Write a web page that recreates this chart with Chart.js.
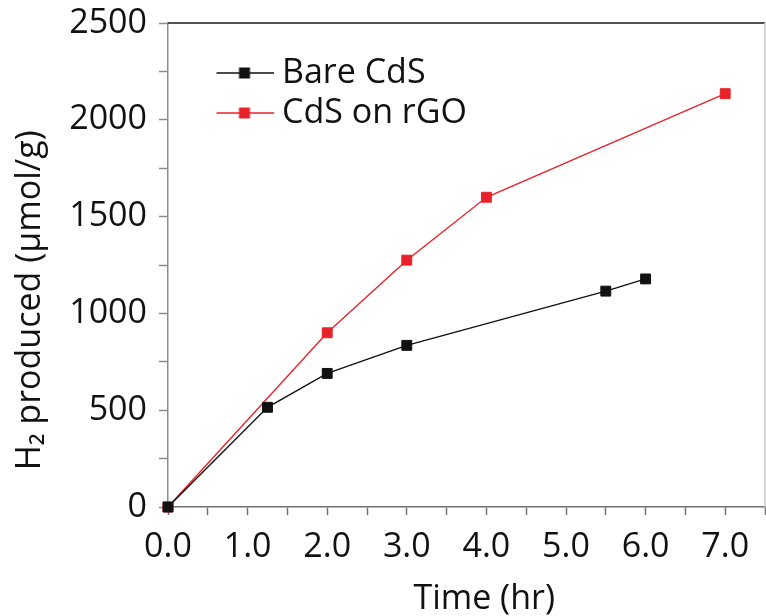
<!DOCTYPE html>
<html>
<head>
<meta charset="utf-8">
<script src="https://cdn.jsdelivr.net/npm/chart.js@4.4.0/dist/chart.umd.min.js"></script>
<style>
  html, body { margin: 0; padding: 0; background: #fff; }
  #wrap { width: 766px; height: 616px; }
</style>
</head>
<body>
<div id="wrap"><canvas id="chart" width="766" height="616"></canvas></div>
<script>
// H2 evolution data
const bareTime = [0, 1.25, 2, 3, 5.5, 6];
const bareH2 = [0, 515, 690, 835, 1115, 1178];
const rgoTime = [0, 2, 3, 4, 7];
const rgoH2 = [0, 900, 1275, 1600, 2135];
const seriesNames = ['Bare CdS', 'CdS on rGO'];
const seriesColors = ['#111111', '#e8222a'];
const xTicks = [0, 1, 2, 3, 4, 5, 6, 7];
const yTicks = [0, 500, 1000, 1500, 2000, 2500];

const FONT = "'Open Sans', 'Noto Sans', sans-serif";

// little "—■—" glyph used as the legend point style
function legendIcon(color) {
    const c = document.createElement('canvas');
    c.width = 108;
    c.height = 20;
    const g = c.getContext('2d');
    g.strokeStyle = color;
    g.lineWidth = 1.4;
    g.beginPath();
    g.moveTo(51, 10);
    g.lineTo(108, 10);
    g.stroke();
    g.fillStyle = color;
    g.fillRect(73.5, 4.5, 11, 11);
    return c;
}
const legendIcons = seriesColors.map(legendIcon);

// top (black) and right (light grey) edges of the plot frame,
// and drop the in-plot legend a bit below the top edge
const framePlugin = {
    id: 'frame',
    beforeDraw(chart) {
        if (chart.legend) chart.legend.top = chart.chartArea.top + 27;
    },
    beforeDatasetsDraw(chart) {
        const { ctx, chartArea: a } = chart;
        ctx.save();
        ctx.lineWidth = 1.5;
        ctx.strokeStyle = '#1a1a1a';
        ctx.beginPath();
        ctx.moveTo(a.left, a.top);
        ctx.lineTo(a.right, a.top);
        ctx.stroke();
        ctx.strokeStyle = '#c8c8c8';
        ctx.beginPath();
        ctx.moveTo(a.right, a.top);
        ctx.lineTo(a.right, a.bottom);
        ctx.stroke();
        ctx.restore();
    },
};

const toPoints = (xs, ys) => xs.map((x, i) => ({ x, y: ys[i] }));

const datasetStyle = color => ({
    borderColor: color,
    backgroundColor: color,
    borderWidth: 1.4,
    pointStyle: 'rect',
    pointRadius: 7,
    pointHoverRadius: 7,
    pointBorderWidth: 1,
    pointBackgroundColor: color,
    pointBorderColor: color,
    tension: 0,
    fill: false,
    clip: false,
});

new Chart(document.getElementById('chart'), {
    type: 'line',
    data: {
        datasets: [
            { label: seriesNames[0], data: toPoints(bareTime, bareH2), ...datasetStyle(seriesColors[0]) },
            { label: seriesNames[1], data: toPoints(rgoTime, rgoH2), ...datasetStyle(seriesColors[1]) },
        ],
    },
    options: {
        responsive: false,
        devicePixelRatio: 1,
        animation: false,
        layout: { autoPadding: false, padding: { top: 23, right: 1, left: 0, bottom: 0 } },
        plugins: {
            tooltip: { enabled: false },
            legend: {
                position: 'chartArea',
                align: 'start',
                labels: {
                    usePointStyle: true,
                    pointStyleWidth: 91,
                    padding: 6,
                    color: '#111',
                    font: { family: FONT, size: 34 },
                    generateLabels(chart) {
                        const items = Chart.defaults.plugins.legend.labels.generateLabels(chart);
                        return items.map((it, i) => ({ ...it, pointStyle: legendIcons[i] }));
                    },
                },
            },
        },
        scales: {
            x: {
                type: 'linear',
                min: 0,
                max: 7.5,
                afterFit: s => {
                    s.height = 109;
                    s.paddingLeft = 0;
                    s.paddingRight = 0;
                },
                border: { color: '#707070', width: 1.5 },
                grid: { drawOnChartArea: false, drawTicks: true, tickLength: 8, tickColor: '#707070', tickWidth: 1.5 },
                ticks: {
                    stepSize: 0.5,
                    autoSkip: false,
                    maxRotation: 0,
                    padding: 12,
                    color: '#111',
                    font: { family: FONT, size: 34 },
                    callback: v => xTicks.includes(v) ? v.toFixed(1) : '',
                },
                title: {
                    display: true,
                    text: '    Time (hr)',
                    color: '#111',
                    font: { family: FONT, size: 34, lineHeight: 1 },
                    padding: { top: 0, bottom: 0 },
                },
            },
            y: {
                min: 0,
                max: 2500,
                afterFit: s => {
                    s.width = 168;
                    s.paddingTop = 0;
                    s.paddingBottom = 0;
                },
                border: { color: '#8c8c8c', width: 1.5 },
                grid: { drawOnChartArea: false, drawTicks: true, tickLength: 9, tickColor: '#8c8c8c', tickWidth: 1.5 },
                ticks: {
                    stepSize: 250,
                    autoSkip: false,
                    padding: 12,
                    color: '#111',
                    font: { family: FONT, size: 34 },
                    callback: v => yTicks.includes(v) ? String(v) : '',
                },
                title: {
                    display: true,
                    text: 'H\u2082 produced (\u03bcmol/g)        ',
                    color: '#111',
                    font: { family: FONT, size: 34, lineHeight: 1 },
                    padding: { top: 13, bottom: 0 },
                },
            },
        },
    },
    plugins: [framePlugin],
});
</script>
</body>
</html>
